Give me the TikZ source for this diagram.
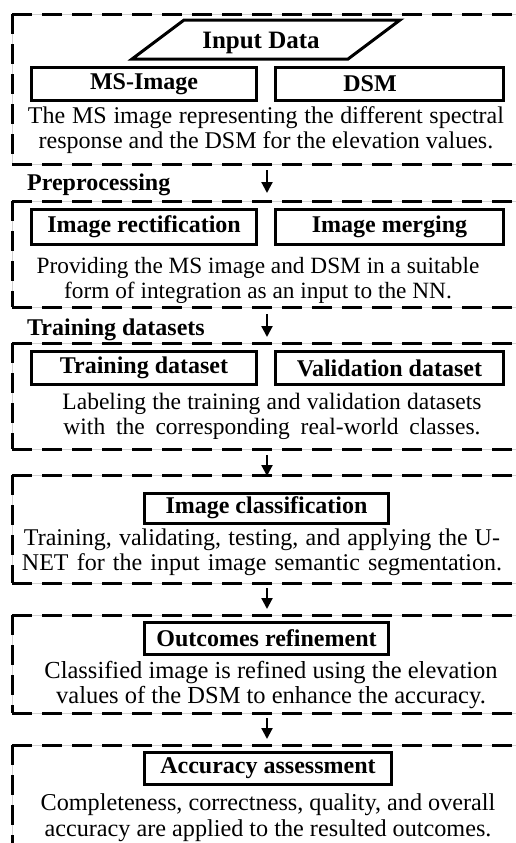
\documentclass[tikz,border=0pt]{standalone}
\usepackage{fontspec}
\setmainfont{Liberation Serif}
\usetikzlibrary{arrows.meta}
\tikzset{
  grp/.style={line width=3bp, dash pattern=on 20bp off 10bp},
  faint/.style={line width=0.8bp, black!18},
  sbox/.style={draw, line width=3bp, inner sep=0pt, minimum height=33bp,
    font=\bfseries\fontsize{24bp}{26bp}\selectfont},
  desc/.style={inner sep=0pt, align=center, font=\fontsize{24bp}{25.5bp}\selectfont},
  lbl/.style={inner sep=0pt, anchor=base west, font=\bfseries\fontsize{24bp}{26bp}\selectfont},
  arr/.style={line width=2.2bp, -{Triangle[length=11bp,width=11bp]}},
}
\newcommand{\grpbox}[2]{%
  \draw[faint] (530,#1) -- (12,#1) -- (12,#2) -- (530,#2);
  \draw[grp] (12,#1) -- (530,#1);
  \draw[grp] (12,#1) -- (12,#2);
  \draw[grp] (12,#2) -- (530,#2);
}
\begin{document}
\begin{tikzpicture}[x=1bp,y=-1bp]
\useasboundingbox (0,0) rectangle (516,843);
\clip (0,0) rectangle (516,843);
\fill[white] (0,0) rectangle (516,843);

% group frames
\grpbox{14}{164}
\grpbox{201}{307}
\grpbox{343}{449}
\grpbox{475}{583}
\grpbox{615}{713}
\draw[faint] (530,745) -- (12,745) -- (12,850);
\draw[grp] (12,745) -- (530,745);
\draw[grp] (12,745) -- (12,850);

% Input data
\draw[line width=3bp, line join=miter] (184,20) -- (400,20) -- (348,59) -- (132,59) -- cycle;
\node[inner sep=0pt, font=\bfseries\fontsize{25bp}{26bp}\selectfont] (input) at (261,43) {Input Data};
\node[sbox, minimum width=225bp] (ms) at (144,84) {MS-Image};
\node[sbox, minimum width=228bp] (dsm) at (389.5,84) {DSM\hspace*{39bp}};
\node[desc] (d1) at (266,130) {\makebox[476bp][s]{The MS image representing the different spectral}\\response and the DSM for the elevation values.};

% Preprocessing
\node[lbl] (pre) at (27,190) {Preprocessing};
\node[sbox, minimum width=225bp, minimum height=35bp] (rect) at (144,226.5) {Image rectification};
\node[sbox, minimum width=228bp, minimum height=35bp] (merge) at (389.5,226.5) {Image merging};
\node[desc, font=\fontsize{23.3bp}{25bp}\selectfont] (d2) at (258,280) {Providing the MS image and DSM in a suitable\\form of integration as an input to the NN.};

% Training datasets
\node[lbl] (train) at (27,335) {Training datasets};
\node[sbox, minimum width=225bp] (tds) at (144,368) {Training dataset};
\node[sbox, minimum width=228bp] (vds) at (389.5,368) {Validation dataset};
\node[desc, font=\fontsize{23.5bp}{24.5bp}\selectfont] (d3) at (272,416.5) {\makebox[419bp][s]{Labeling the training and validation datasets}\\\makebox[417bp][s]{with the corresponding real-world classes.}};

% Image classification
\node[sbox, minimum width=244bp, minimum height=30bp] (cls) at (266.5,508) {Image classification};
\node[desc] (d4) at (262,552.5) {\makebox[476bp][s]{Training, validating, testing, and applying the U-}\\\makebox[480bp][s]{NET for the input image semantic segmentation.}};

% Outcomes refinement
\node[sbox, minimum width=244bp, minimum height=32bp] (ref) at (266.5,638.5) {Outcomes refinement};
\node[desc, font=\fontsize{24.5bp}{25bp}\selectfont] (d5) at (271,685) {Classified image is refined using the elevation\\values of the DSM to enhance the accuracy.};

% Accuracy assessment
\node[sbox, minimum width=247bp, minimum height=32bp] (acc) at (268,768.5) {Accuracy assessment};
\node[desc, font=\fontsize{24.2bp}{25.5bp}\selectfont] (d6) at (268,817.5) {Completeness, correctness, quality, and overall\\accuracy are applied to the resulted outcomes.};

% arrows
\coordinate (a1s) at (267,170); \coordinate (a1e) at (267,193);
\coordinate (a2s) at (267,314); \coordinate (a2e) at (267,337);
\coordinate (a3s) at (267,455); \coordinate (a3e) at (267,476);
\coordinate (a4s) at (267,588); \coordinate (a4e) at (267,609);
\coordinate (a5s) at (267,718); \coordinate (a5e) at (267,739);
\draw[arr] (a1s) -- (a1e);
\draw[arr] (a2s) -- (a2e);
\draw[arr] (a3s) -- (a3e);
\draw[arr] (a4s) -- (a4e);
\draw[arr] (a5s) -- (a5e);
\end{tikzpicture}
\end{document}
